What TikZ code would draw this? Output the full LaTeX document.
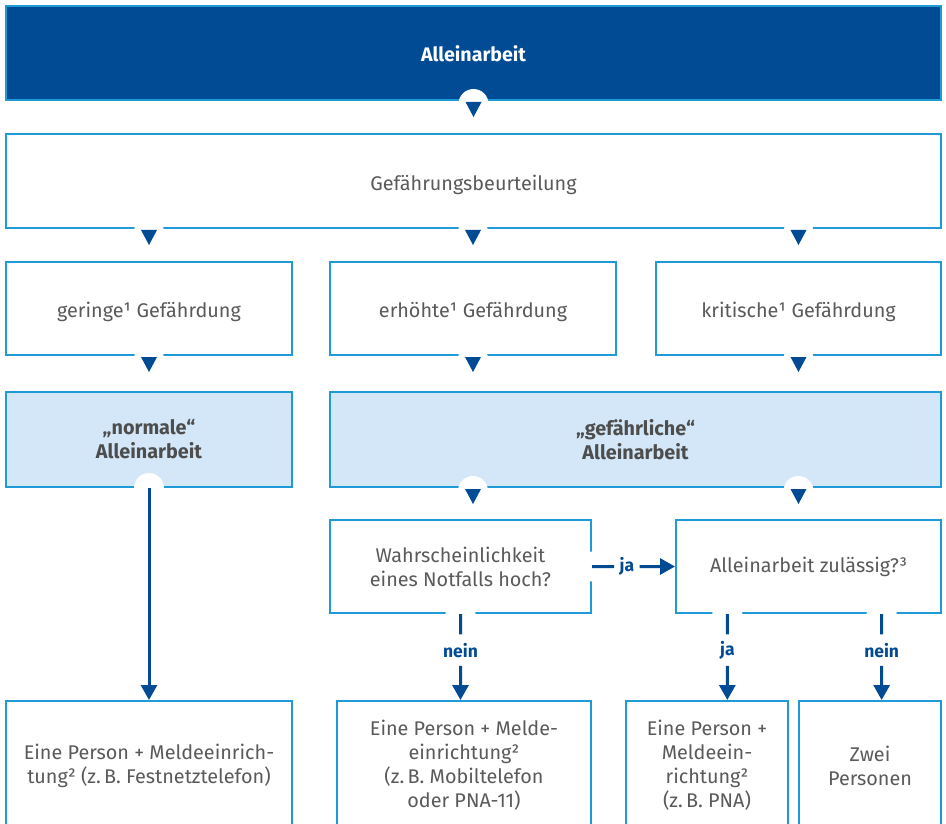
\documentclass[tikz,border=0pt]{standalone}
\usepackage{fontspec}
\setmainfont{Fira Sans}
\usetikzlibrary{calc,arrows.meta}
\definecolor{dblue}{HTML}{004B93}
\definecolor{lblue}{HTML}{1E9BD7}
\definecolor{shade}{HTML}{D3E7F8}
\definecolor{txt}{HTML}{5A5A5A}
\definecolor{btxt}{HTML}{4D4D4D}
\newcommand\lowered[1]{\raisebox{-3.5pt}[\height][\depth]{#1}}
\begin{document}
\begin{tikzpicture}[x=1pt,y=-1pt,
  box/.style={draw=lblue,line width=2pt,fill=white,inner sep=0pt,align=center,
    text=txt,font=\fontsize{19.8}{24}\selectfont},
  sbox/.style={box,fill=shade,text=btxt,font=\fontsize{19.8}{24}\selectfont\bfseries},
  hbox/.style={box,fill=dblue,text=white,font=\fontsize{19.6}{24}\selectfont\bfseries},
  tri/.pic={\fill[white] (0,3) circle[radius=15];
            \fill[dblue] (-8,1) -- (8,1) -- (0,16) -- cycle;},
  gap/.pic={\fill[white] (0,0) circle[radius=15];},
  conn/.style={draw=dblue,line width=3pt},
  arr/.style={conn,-{Triangle[width=16pt,length=15pt]}},
  lbl/.style={inner sep=0pt,minimum width=25pt,minimum height=31pt,text=dblue,
    font=\fontsize{17.5}{18}\selectfont\bfseries}]
\useasboundingbox (0,0) rectangle (946,824);
\clip (0,0) rectangle (946,824);

% boxes
\node[hbox,minimum width=935pt,minimum height=94pt] (top) at (473.5,53) {\raisebox{-1pt}[\height][\depth]{Alleinarbeit}};
\node[box,minimum width=935pt,minimum height=94pt] (gb) at (473.5,181) {\lowered{Gefährungsbeurteilung}};
\node[box,minimum width=286pt,minimum height=93pt] (r2a) at (149,308.5) {\lowered{geringe¹ Gefährdung}};
\node[box,minimum width=286pt,minimum height=93pt] (r2b) at (473,308.5) {\lowered{erhöhte¹ Gefährdung}};
\node[box,minimum width=285pt,minimum height=93pt] (r2c) at (798.5,308.5) {\lowered{kritische¹ Gefährdung}};
\node[sbox,minimum width=286pt,minimum height=95pt] (r3a) at (149,439.5) {„normale“\\Alleinarbeit};
\node[sbox,minimum width=611pt,minimum height=95pt] (r3b) at (635.5,439.5) {„gefährliche“\\Alleinarbeit};
\node[box,minimum width=261pt,minimum height=93pt] (q1) at (460.5,566.5) {Wahrscheinlichkeit\\eines Notfalls hoch?};
\node[box,minimum width=265pt,minimum height=93pt] (q2) at (808.5,566.5) {Alleinarbeit zulässig?³};
\node[box,minimum width=286pt,minimum height=129pt] (b1) at (149,765.5) {Eine Person + Meldeeinrich-\\tung² (z.\,B. Festnetztelefon)};
\node[box,minimum width=254pt,minimum height=129pt] (b2) at (464,765.5) {Eine Person + Melde-\\einrichtung²\\(z.\,B. Mobiltelefon\\oder PNA-11)};
\node[box,minimum width=162pt,minimum height=129pt] (b3) at (707,765.5) {Eine Person +\\Meldeein-\\richtung²\\(z.\,B. PNA)};
\node[box,minimum width=142pt,minimum height=129pt] (b4) at (870,765.5) {Zwei\\Personen};

% triangle markers
\pic at (top.south) {tri};
\pic at (gb.south -| r2a.north) {tri};
\pic at (gb.south -| r2b.north) {tri};
\pic at (gb.south -| r2c.north) {tri};
\pic at (r2a.south) {tri};
\pic at (r2b.south) {tri};
\pic at (r2c.south) {tri};
\pic at (r3b.south -| r2b.south) {tri};
\pic at (r3b.south -| r2c.south) {tri};

% normale -> b1
\pic at (r3a.south) {gap};
\draw[arr] (r3a.south) -- (b1.north);

% q1 -> q2 (ja)
\pic at (q1.east) {gap};
\node[lbl] (ja1) at ($(q1.east)!0.42!(q2.west)$) {ja};
\draw[conn] (q1.east) -- (ja1.west);
\draw[arr] (ja1.east) -- (q2.west);

% q1 -> b2 (nein)
\pic at (q1.south) {gap};
\node[lbl] (n1) at ($(q1.south)!0.42!(q1.south |- b2.north)$) {nein};
\draw[conn] (q1.south) -- (n1.north);
\draw[arr] (n1.south) -- (q1.south |- b2.north);

% q2 -> b3 (ja), q2 -> b4 (nein)
\coordinate (s3) at ($(q2.south west)!0.196!(q2.south east)$);
\coordinate (s4) at ($(q2.south west)!0.774!(q2.south east)$);
\pic at (s3) {gap};
\pic at (s4) {gap};
\node[lbl] (ja2) at ($(s3)!0.42!(s3 |- b3.north)$) {ja};
\draw[conn] (s3) -- (ja2.north);
\draw[arr] (ja2.south) -- (s3 |- b3.north);
\node[lbl] (n2) at ($(s4)!0.42!(s4 |- b4.north)$) {nein};
\draw[conn] (s4) -- (n2.north);
\draw[arr] (n2.south) -- (s4 |- b4.north);
\end{tikzpicture}
\end{document}
